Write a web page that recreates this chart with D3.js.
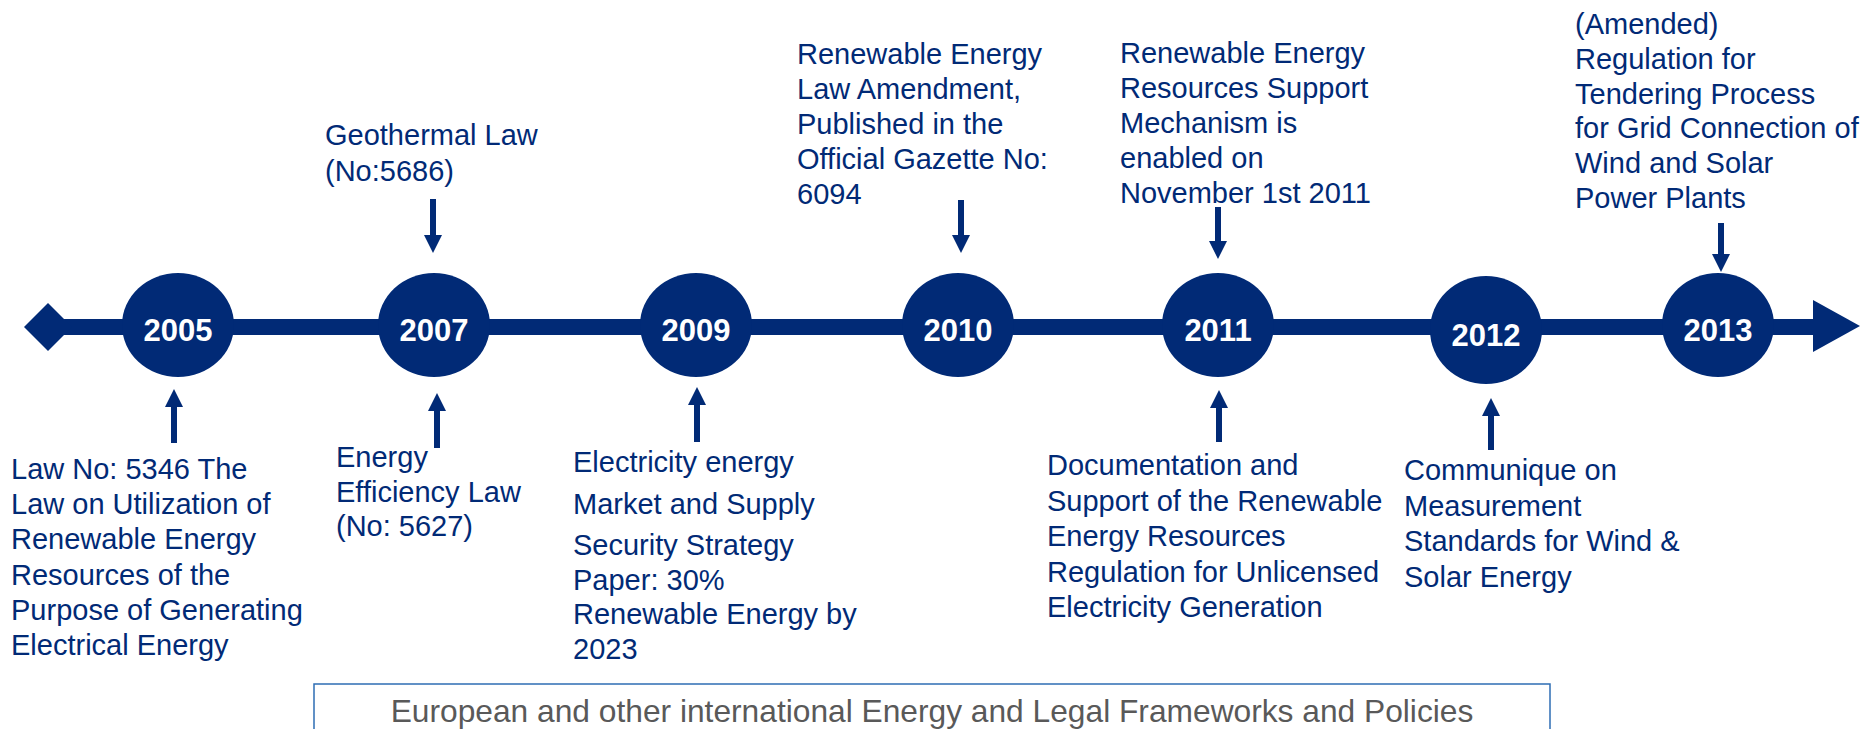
<!DOCTYPE html>
<html>
<head>
<meta charset="utf-8">
<script src="https://cdn.jsdelivr.net/npm/d3@7/dist/d3.min.js"></script>
<style>
  html, body { margin: 0; padding: 0; background: #ffffff; }
  svg { display: block; }
</style>
</head>
<body>
<svg id="chart" width="1866" height="729"></svg>
<script>
// Milestone years shown on the timeline
const years = ["2005", "2007", "2009", "2010", "2011", "2012", "2013"];

// Events written above the timeline (arrow points down to the year)
const aboveYears = ["2007", "2010", "2011", "2013"];
const aboveTexts = [
  [["Geothermal Law", "(No:5686)"]],
  [["Renewable Energy", "Law Amendment,", "Published in the", "Official Gazette No:", "6094"]],
  [["Renewable Energy", "Resources Support", "Mechanism is", "enabled on", "November 1st 2011"]],
  [["(Amended)", "Regulation for", "Tendering Process", "for Grid Connection of", "Wind and Solar", "Power Plants"]]
];

// Events written below the timeline (arrow points up to the year)
const belowYears = ["2005", "2007", "2009", "2011", "2012"];
const belowTexts = [
  [["Law No: 5346 The", "Law on Utilization of", "Renewable Energy", "Resources of the", "Purpose of Generating", "Electrical Energy"]],
  [["Energy", "Efficiency Law", "(No: 5627)"]],
  [["Electricity energy"], ["Market and Supply"], ["Security Strategy", "Paper: 30%", "Renewable Energy by", "2023"]],
  [["Documentation and", "Support of the Renewable", "Energy Resources", "Regulation for Unlicensed", "Electricity Generation"]],
  [["Communique on", "Measurement", "Standards for Wind &", "Solar Energy"]]
];

const footerText = "European and other international Energy and Legal Frameworks and Policies";

// ---------------------------------------------------------------- layout
const NAVY = "#012a76";
const FONT = "'Liberation Sans', Arial, Helvetica, sans-serif";

const W = 1866, H = 729;
const axisY = 327;          // centre line of the timeline bar
const barH = 16;
const circleY = 325;
const rx = 56, ry = 52;

// Node positions along the bar (nodes are evenly laid out, last gap shorter)
const x = d3.scaleOrdinal()
  .domain(years)
  .range([178, 434, 696, 958, 1218, 1486, 1718]);

// Per-node vertical nudge
const nodeDy = { "2012": 5 };

// Text block placement relative to its node, arrow spans
const aboveLayout = {
  "2007": { dx: -109, y0: 145, lh: 36,   arrowDx: -1, a0: 199, a1: 253 },
  "2010": { dx: -161, y0: 64,  lh: 35,   arrowDx: 3,  a0: 200, a1: 253 },
  "2011": { dx: -98,  y0: 63,  lh: 35,   arrowDx: 0,  a0: 207, a1: 259 },
  "2013": { dx: -143, y0: 34,  lh: 34.8, arrowDx: 3,  a0: 223, a1: 272 }
};
const belowLayout = {
  "2005": { dx: -167, y0: 479, lh: 35.2, gap: 0,   arrowDx: -4, a0: 443, a1: 389 },
  "2007": { dx: -98,  y0: 467, lh: 34.5, gap: 0,   arrowDx: 3,  a0: 448, a1: 393 },
  "2009": { dx: -123, y0: 472, lh: 34.7, gap: 6.8, arrowDx: 1,  a0: 442, a1: 387 },
  "2011": { dx: -171, y0: 475, lh: 35.5, gap: 0,   arrowDx: 1,  a0: 442, a1: 390 },
  "2012": { dx: -82,  y0: 480, lh: 35.5, gap: 0,   arrowDx: 5,  a0: 450, a1: 398 }
};

const svg = d3.select("#chart");

// ---------------------------------------------------------------- timeline bar
const barStart = 48, barEnd = 1813;
svg.append("rect")
  .attr("x", barStart).attr("y", axisY - barH / 2)
  .attr("width", barEnd - barStart).attr("height", barH)
  .attr("fill", NAVY);

// diamond at the start
const dS = 24;
svg.append("path")
  .attr("d", d3.line()([[barStart - dS, axisY], [barStart, axisY - dS], [barStart + dS, axisY], [barStart, axisY + dS]]) + "Z")
  .attr("fill", NAVY);

// arrow head at the end
svg.append("path")
  .attr("d", d3.line()([[barEnd, axisY - 27], [barEnd + 47, axisY - 1], [barEnd, axisY + 25]]) + "Z")
  .attr("fill", NAVY);

// ---------------------------------------------------------------- year nodes
const nodes = svg.append("g").selectAll("g")
  .data(years)
  .join("g")
  .attr("transform", d => `translate(${x(d)},${circleY + (nodeDy[d] || 0)})`);

nodes.append("ellipse")
  .attr("rx", rx)
  .attr("ry", d => d === "2012" ? ry + 2 : ry)
  .attr("fill", NAVY);

nodes.append("text")
  .attr("text-anchor", "middle")
  .attr("y", 16)
  .attr("fill", "#ffffff")
  .style("font-family", FONT)
  .style("font-weight", "bold")
  .style("font-size", "31px")
  .text(d => d);

// ---------------------------------------------------------------- arrows
function arrowPath(cx, yFrom, yTip) {
  const dir = yTip > yFrom ? 1 : -1;
  const sw = 3, hw = 9, hl = 18;
  const yBase = yTip - dir * hl;
  return d3.line()([
    [cx - sw, yFrom], [cx + sw, yFrom], [cx + sw, yBase], [cx + hw, yBase],
    [cx, yTip], [cx - hw, yBase], [cx - sw, yBase]
  ]) + "Z";
}

// ---------------------------------------------------------------- annotations
function drawBlock(year, paragraphs, lay) {
  const cx = x(year);
  const g = svg.append("g");
  g.append("path")
    .attr("d", arrowPath(cx + lay.arrowDx, lay.a0, lay.a1))
    .attr("fill", NAVY);

  const t = g.append("text")
    .attr("fill", NAVY)
    .style("font-family", FONT)
    .style("font-size", "29px");
  let y = lay.y0;
  paragraphs.forEach((para, pi) => {
    if (pi > 0) y += lay.gap || 0;
    para.forEach(line => {
      t.append("tspan").attr("x", cx + lay.dx).attr("y", y).text(line);
      y += lay.lh;
    });
  });
}

aboveYears.forEach((yr, i) => drawBlock(yr, aboveTexts[i], aboveLayout[yr]));
belowYears.forEach((yr, i) => drawBlock(yr, belowTexts[i], belowLayout[yr]));

// ---------------------------------------------------------------- footer box
const boxX0 = 314, boxX1 = 1550, boxY = 684;
svg.append("rect")
  .attr("x", boxX0).attr("y", boxY)
  .attr("width", boxX1 - boxX0).attr("height", 80)
  .attr("fill", "#ffffff")
  .attr("stroke", "#2e6db4")
  .attr("stroke-width", 1.5);

const footer = svg.append("text")
  .attr("x", (boxX0 + boxX1) / 2)
  .attr("y", 722)
  .attr("text-anchor", "middle")
  .attr("fill", "#595959")
  .style("font-family", FONT)
  .style("font-size", "29px")
  .text(footerText);
// fit the footer line to its run length
const targetW = 1083;
const w0 = footer.node().getComputedTextLength();
footer.style("font-size", (29 * targetW / w0).toFixed(2) + "px");
</script>
</body>
</html>
